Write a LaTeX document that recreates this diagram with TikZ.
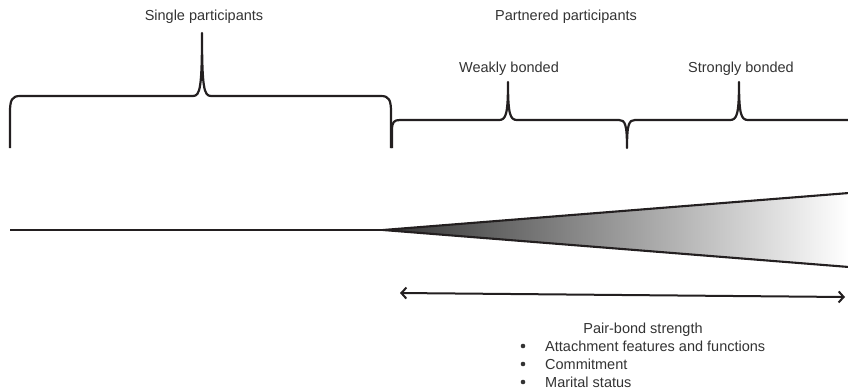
\documentclass[tikz,border=0pt]{standalone}
\usepackage{fontspec}
\setmainfont{Liberation Sans}
\usetikzlibrary{arrows.meta}
\definecolor{ink}{HTML}{231F20}
\definecolor{txt}{HTML}{333333}
\tikzset{
  brace/.style={draw=ink, line width=2.2pt, line join=round},
  lbl/.style={text=txt, font=\fontsize{14.5}{17}\selectfont, inner sep=0pt, anchor=base},
  bul/.style={text=txt, font=\fontsize{14.5}{17}\selectfont, inner sep=0pt, anchor=base west},
  dot/.style={circle, fill=txt, inner sep=0pt, minimum size=4.6pt},
}
\begin{document}
\begin{tikzpicture}[x=1pt,y=-1pt]
\useasboundingbox (0,0) rectangle (848,391);
% labels
\node[lbl] (single) at (204,20) {Single participants};
\node[lbl] (partner) at (566,20) {Partnered participants};
\node[lbl] (weak) at (509,72) {Weakly bonded};
\node[lbl] (strong) at (741,72) {Strongly bonded};
% big brace
\path[brace] (10,148) -- (10,112) .. controls (10,100) and (12,96) .. (20,96) -- (193,96)
  .. controls (200,96) and (202,88) .. (202,33)
  .. controls (202,88) and (204,96) .. (211,96) -- (381,96)
  .. controls (389,96) and (391,100) .. (391,112) -- (391,148);
% partnered braces
\path[brace] (392,148) -- (392,130) .. controls (392,122) and (394,120) .. (400,120) -- (499,120)
  .. controls (506,120) and (508,114) .. (508,82)
  .. controls (508,114) and (510,120) .. (517,120) -- (619,120)
  .. controls (625,120) and (627,124) .. (627,148)
  .. controls (627,124) and (629,120) .. (635,120) -- (730,120)
  .. controls (737,120) and (739,114) .. (739,82)
  .. controls (739,114) and (741,120) .. (748,120) -- (849,120);
% wedge
\coordinate (apex) at (383,230);
\coordinate (start) at (10,230);
\coordinate (tr) at (849,193);
\coordinate (br) at (849,267);
\shade[left color=black!80, middle color=black!16, right color=white] (apex) -- (tr) -- (br) -- cycle;
\draw[ink, line width=2.4pt] (start) -- (apex);
\draw[ink, line width=2.1pt, line join=round] (tr) -- (apex) -- (br);
% double arrow
\coordinate (al) at (400,293);
\coordinate (ar) at (845,297);
\draw[ink, line width=2pt, {Straight Barb[length=5pt,width=11pt]}-{Straight Barb[length=5pt,width=11pt]}] (al) -- (ar);
% text below
\node[lbl] (pbs) at (643,333) {Pair-bond strength};
\node[dot] (b1) at (523,346) {};
\node[bul] (t1) at (545,351) {Attachment features and functions};
\node[dot] (b2) at (523,364) {};
\node[bul] (t2) at (545,369) {Commitment};
\node[dot] (b3) at (523,382) {};
\node[bul] (t3) at (545,387) {Marital status};
\end{tikzpicture}
\end{document}
